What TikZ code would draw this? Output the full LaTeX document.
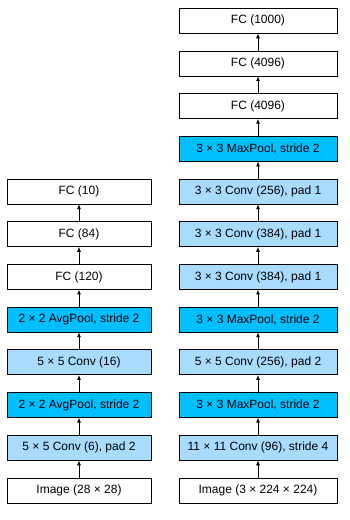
\documentclass[tikz,border=0pt]{standalone}
\usepackage{fontspec}
\setmainfont{Liberation Sans}
\usetikzlibrary{arrows.meta, positioning}
\definecolor{convblue}{HTML}{A9DBFF}
\definecolor{poolblue}{HTML}{00BFFF}

\begin{document}
\begin{tikzpicture}[inner sep=0pt,outer sep=0pt,
  node distance=17.7pt,
  layer/.style={draw, line width=0.9pt, minimum height=25pt,
    font=\fontsize{12pt}{14pt}\selectfont},
  narrow/.style={layer, minimum width=144pt},
  wide/.style={layer, minimum width=158pt},
  conv/.style={fill=convblue},
  pool/.style={fill=poolblue},
  flow/.style={-{Latex[length=5pt,width=4pt]}, line width=0.9pt}]
\useasboundingbox (0,0) rectangle (350pt,520pt);
% LeNet
\node[narrow] (imgL) at (79pt,29.5pt) {Image (28 × 28)};
\node[narrow,conv,above=of imgL] (convL1) {5 × 5 Conv (6), pad 2};
\node[narrow,pool,above=of convL1] (poolL1) {2 × 2 AvgPool, stride 2};
\node[narrow,conv,above=of poolL1] (convL2) {5 × 5 Conv (16)};
\node[narrow,pool,above=of convL2] (poolL2) {2 × 2 AvgPool, stride 2};
\node[narrow,above=of poolL2] (fcL1) {FC (120)};
\node[narrow,above=of fcL1] (fcL2) {FC (84)};
\node[narrow,above=of fcL2] (fcL3) {FC (10)};
% AlexNet
\node[wide] (imgR) at (258pt,29.5pt) {Image (3 × 224 × 224)};
\node[wide,conv,above=of imgR] (convR1) {11 × 11 Conv (96), stride 4};
\node[wide,pool,above=of convR1] (poolR1) {3 × 3 MaxPool, stride 2};
\node[wide,conv,above=of poolR1] (convR2) {5 × 5 Conv (256), pad 2};
\node[wide,pool,above=of convR2] (poolR2) {3 × 3 MaxPool, stride 2};
\node[wide,conv,above=of poolR2] (convR3) {3 × 3 Conv (384), pad 1};
\node[wide,conv,above=of convR3] (convR4) {3 × 3 Conv (384), pad 1};
\node[wide,conv,above=of convR4] (convR5) {3 × 3 Conv (256), pad 1};
\node[wide,pool,above=of convR5] (poolR3) {3 × 3 MaxPool, stride 2};
\node[wide,above=of poolR3] (fcR1) {FC (4096)};
\node[wide,above=of fcR1] (fcR2) {FC (4096)};
\node[wide,above=of fcR2] (fcR3) {FC (1000)};
\foreach \a/\b in {imgL/convL1,convL1/poolL1,poolL1/convL2,convL2/poolL2,
    poolL2/fcL1,fcL1/fcL2,fcL2/fcL3,
    imgR/convR1,convR1/poolR1,poolR1/convR2,convR2/poolR2,poolR2/convR3,
    convR3/convR4,convR4/convR5,convR5/poolR3,poolR3/fcR1,fcR1/fcR2,fcR2/fcR3}
  \draw[flow] (\a) -- (\b);
\end{tikzpicture}
\end{document}
